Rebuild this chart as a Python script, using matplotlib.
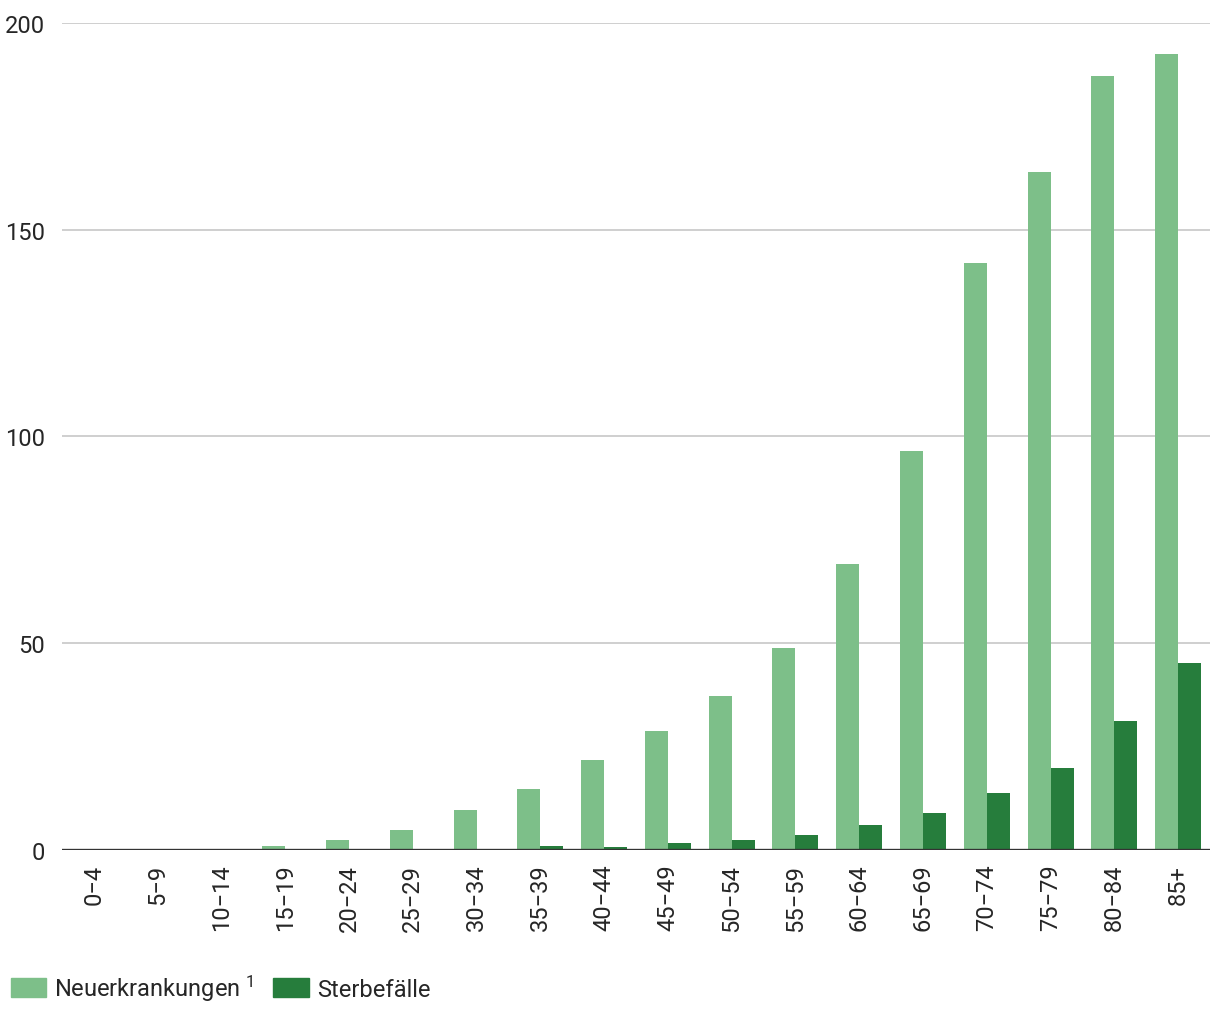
import matplotlib.pyplot as plt
import matplotlib.patches as mpatches
import numpy as np

plt.rcParams['font.family'] = ['Roboto', 'DejaVu Sans']
plt.rcParams['mathtext.fontset'] = 'custom'
plt.rcParams['mathtext.rm'] = 'Roboto'
plt.rcParams['mathtext.default'] = 'rm'

# age groups and rates
groups = ['0−4', '5−9', '10−14', '15−19', '20−24', '25−29', '30−34', '35−39', '40−44',
          '45−49', '50−54', '55−59', '60−64', '65−69', '70−74', '75−79', '80−84', '85+']
neuerkrankungen = [0, 0, 0.1, 1.0, 2.4, 4.8, 9.7, 14.8, 21.8, 28.8, 37.2, 48.9, 69.2,
                   96.5, 142.0, 164.0, 187.2, 192.5]
sterbefaelle = [0, 0, 0, 0, 0, 0, 0.1, 1.0, 0.7, 1.7, 2.4, 3.6, 6.0, 8.9, 13.8, 19.8,
                31.2, 45.2]

light = '#7dbf89'
dark = '#267d3c'
txt = '#262626'

fig = plt.figure(figsize=(12.2, 10.2), dpi=100)
ax = fig.add_axes([0.0508, 0.1657, 0.941, 0.811])

x = np.arange(len(groups))
w = 0.36
ax.bar(x - w / 2, neuerkrankungen, w, color=light, zorder=2)
ax.bar(x + w / 2, sterbefaelle, w, color=dark, zorder=2)

ax.set_xlim(-0.5, len(groups) - 0.5)
ax.set_ylim(0, 200)
ax.set_yticks([0, 50, 100, 150, 200])
ax.yaxis.grid(True, color='#cccccc', linewidth=1.3, zorder=0)
ax.axhline(0, color='#333333', linewidth=2.4, zorder=3)

for s in ax.spines.values():
    s.set_visible(False)

ax.set_xticks(x)
ax.set_xticklabels(groups, rotation=90)
ax.tick_params(axis='both', length=0, labelsize=17, labelcolor=txt)
ax.tick_params(axis='x', pad=10)
ax.tick_params(axis='y', pad=12)

handles = [mpatches.Patch(color=light, label='Neuerkrankungen $^{1}$'),
           mpatches.Patch(color=dark, label='Sterbefälle')]
leg = fig.legend(handles=handles, loc='lower left', bbox_to_anchor=(-0.003, 0.002), ncol=2,
                 frameon=False, fontsize=17, handlelength=1.5, handleheight=0.85,
                 handletextpad=0.33, columnspacing=0.85, borderaxespad=0.2)
for t in leg.get_texts():
    t.set_color(txt)

fig.savefig('out.png', dpi=100)
